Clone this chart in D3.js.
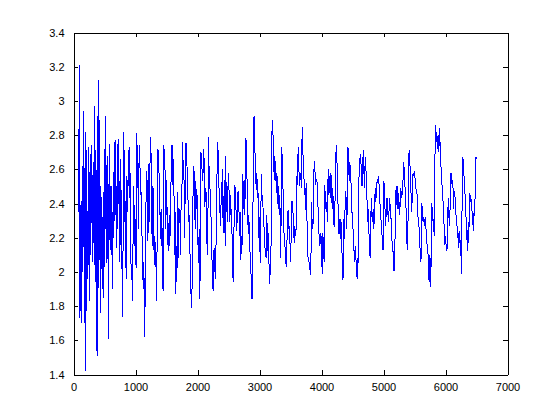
<!DOCTYPE html>
<html><head><meta charset="utf-8">
<script src="https://cdn.jsdelivr.net/npm/d3@7/dist/d3.min.js"></script>
<style>html,body{margin:0;padding:0;background:#fff}svg{display:block}</style>
</head><body>
<script>
const sampleIndex = [
85,92,98,104,112,124,135,145,152,161,170,177,188,194,199,210,218,226,242,248,253,262,269,278,288,296,306,315,323,333,344,352,360,366,371,382,393,403,414,425,431,436,446,452,457,468,479,489,497,505,510,516,527,535,543,552,559,565,575,586,597,605,613,622,629,640,648,656,664,672,683,690,699,715,720,726,737,747,755,763,774,780,785,796,801,812,817,
823,833,850,860,871,887,898,909,919,930,941,952,968,979,989,1000,1011,1022,1032,1038,1048,1059,1070,1081,1091,1102,1113,1124,1134,1145,1151,1161,1172,1183,1194,1204,1215,1226,1237,1247,1258,1269,1280,1290,1301,1312,1323,1333,1344,1349,1360,1371,1382,1392,1403,1414,1425,1435,1446,1457,1468,1478,1489,1500,1511,1521,1532,1543,1554,1565,1575,1586,1597,1607,1613,1624,1634,1640,
1651,1661,1672,1683,1694,1704,1715,1726,1737,1747,1758,1769,1780,1790,1801,1812,1823,1833,1844,1855,1866,1876,1887,1898,1909,1919,1930,1941,1952,1962,1973,1984,1995,2005,2016,2027,2038,2043,2054,2064,2075,2086,2097,2107,2118,2129,2140,2150,2161,2172,2177,2188,2199,2210,2220,2231,2242,2253,2263,2274,2285,2296,2306,2317,2328,2339,2349,2360,2371,2382,2392,2403,2414,2425,2435,2446,2457,2462,
2474,2484,2495,2506,2517,2527,2538,2549,2560,2565,2570,2581,2592,2603,2613,2624,2635,2646,2656,2667,2678,2689,2699,2710,2721,2732,2742,2753,2764,2775,2785,2796,2807,2818,2828,2839,2850,2861,2871,2882,2893,2904,2914,2925,2936,2947,2957,2968,2979,2990,3000,3011,3022,3033,3043,3054,3065,3076,3086,3097,3108,3119,3129,3140,3151,3162,3172,3183,3194,3205,3215,3226,3237,3248,3258,3269,3280,
3285,3296,3306,3317,3328,3339,3344,3355,3365,3376,3387,3398,3408,3419,3430,3441,3451,3462,3473,3484,3494,3505,3516,3527,3537,3548,3559,3570,3580,3591,3602,3613,3623,3634,3645,3656,3666,3677,3688,3699,3709,3720,3731,3742,3752,3763,3774,3785,3795,3806,3817,3828,3838,3849,3860,3871,3881,3892,3903,3914,3925,3935,3946,3957,3968,3978,3989,4000,4011,4021,4032,4043,4054,4064,4075,4086,4097,4107,
4119,4129,4140,4151,4162,4172,4183,4194,4205,4215,4226,4237,4248,4258,4269,4280,4291,4301,4312,4323,4334,4344,4350,4355,4366,4377,4387,4398,4409,4420,4425,4436,4446,4457,4468,4479,4489,4500,4511,4522,4532,4543,4554,4565,4575,4586,4597,4608,4618,4629,4640,4651,4661,4672,4683,4694,4705,4715,4726,4737,4748,4758,4769,4780,4790,4801,4812,4823,4833,4844,4855,4866,4876,4887,4898,4909,4919,4930,
4941,4951,4962,4973,4984,4994,5005,5016,5027,5037,5048,5059,5070,5080,5091,5102,5113,5123,5134,5145,5156,5166,5177,5188,5199,5209,5220,5231,5242,5252,5263,5274,5285,5295,5306,5317,5328,5338,5349,5360,5371,5381,5392,5403,5414,5424,5435,5446,5457,5467,5478,5489,5500,5510,5521,5532,5543,5553,5564,5575,5586,5596,5607,5618,5629,5639,5650,5661,5672,5682,5693,5704,5715,5725,5736,5747,
5753,5764,5774,5785,5796,5807,5817,5828,5839,5850,5860,5871,5882,5893,5903,5914,5925,5936,5946,5957,5968,5979,5989,6000,6011,6022,6032,6043,6054,6065,6075,6086,6097,6108,6118,6129,6140,6151,6161,6172,6183,6194,6204,6215,6226,6237,6247,6258,6269,6280,6290,6301,6312,6323,6333,6344,6355,6366,6376,6387,6398,6409,6419,6430,6441,6452,6462,6473,6484,6495,6500
];
const values = [
2.35,3.21,1.73,2.45,2.00,1.70,2.35,2.62,2.00,2.94,2.10,1.70,2.82,2.20,1.42,2.71,2.30,1.96,2.73,2.20,1.83,2.40,2.69,2.10,2.50,2.74,2.06,2.40,2.64,2.04,2.97,2.30,1.94,2.40,1.54,2.91,1.51,3.12,2.82,2.07,2.50,1.76,2.44,2.15,2.06,1.90,2.47,1.85,2.30,2.72,2.30,2.91,2.05,2.50,2.68,2.10,2.06,1.61,2.75,2.21,2.13,2.50,2.10,2.30,1.90,2.49,2.20,2.76,2.30,2.77,2.33,2.50,2.14,2.75,2.40,2.78,2.45,2.06,2.30,2.66,2.06,2.30,1.74,1.74,2.45,2.82,2.29,
2.71,2.33,1.96,2.56,2.35,2.71,2.43,2.73,2.13,2.02,2.00,1.83,2.50,2.15,2.39,2.10,2.02,2.81,2.49,2.74,2.25,2.74,2.66,2.45,2.47,2.25,2.10,1.90,2.06,1.76,1.62,2.33,2.43,2.59,2.18,2.63,2.23,2.46,2.70,2.79,2.47,2.15,2.50,2.47,2.04,2.21,2.06,2.02,1.83,2.29,2.72,2.70,2.54,2.33,2.35,2.15,2.37,1.94,1.89,2.74,2.65,2.58,2.25,2.54,2.33,2.17,2.12,2.33,2.15,2.41,2.56,2.74,2.74,2.45,2.66,2.37,2.10,2.35,
1.87,2.15,2.02,2.47,2.08,2.37,2.35,2.10,2.45,2.41,2.76,2.62,2.64,2.20,2.45,2.75,2.75,2.58,2.47,2.29,2.33,2.15,2.00,1.83,1.79,2.21,2.51,2.62,2.51,2.25,2.53,2.37,2.45,2.21,2.05,2.25,1.84,2.04,2.70,2.68,2.58,2.53,2.72,2.65,2.38,2.49,2.46,2.19,2.10,2.45,2.79,2.58,2.50,2.45,2.29,2.12,1.93,1.89,2.12,2.14,1.96,2.14,2.21,2.66,2.76,2.59,2.47,2.37,2.27,2.43,2.49,2.60,2.23,2.41,2.54,2.15,2.68,2.41,
2.37,2.29,2.58,2.53,2.29,2.45,2.33,2.37,2.15,2.02,1.97,1.94,2.39,2.51,2.45,2.33,2.24,2.45,2.47,2.39,2.21,2.35,2.07,2.21,2.16,2.57,2.37,2.54,2.33,2.78,2.77,2.58,2.41,2.22,2.33,2.17,2.10,2.03,1.85,1.84,2.27,2.90,2.91,2.73,2.60,2.48,2.58,2.43,2.46,2.20,2.32,2.05,2.37,2.57,2.41,2.41,2.27,2.26,2.15,2.11,2.08,2.33,2.12,2.23,2.08,1.93,2.02,1.98,2.66,2.89,2.84,2.70,2.54,2.68,2.53,2.58,2.46,
2.56,2.40,2.50,2.33,2.45,2.15,2.08,2.73,2.68,2.53,2.38,2.18,2.17,2.10,2.03,2.12,2.35,2.36,2.25,2.27,2.14,2.06,2.41,2.41,2.37,2.29,2.17,2.27,2.21,2.25,2.56,2.51,2.73,2.62,2.50,2.58,2.56,2.49,2.85,2.72,2.60,2.53,2.49,2.36,2.52,2.35,2.19,2.06,2.08,2.01,2.06,1.98,2.41,2.29,2.25,2.35,2.65,2.62,2.51,2.54,2.53,2.51,2.35,2.25,2.15,2.17,2.23,2.15,1.99,2.23,2.14,2.06,2.51,2.37,2.41,2.37,2.29,2.60,
2.45,2.56,2.43,2.58,2.51,2.37,2.49,2.31,2.26,2.35,2.59,2.74,2.67,2.52,2.36,2.22,2.31,2.19,2.31,2.25,2.06,1.95,1.98,2.31,2.19,2.33,2.47,2.43,2.25,2.59,2.73,2.70,2.53,2.64,2.58,2.50,2.35,2.35,2.22,2.14,2.06,2.15,2.10,1.97,2.08,1.96,2.31,2.64,2.66,2.69,2.61,2.50,2.51,2.71,2.60,2.49,2.67,2.60,2.56,2.37,2.29,2.37,2.17,2.10,2.08,2.43,2.33,2.29,2.37,2.25,2.35,2.49,2.41,2.48,2.54,2.52,2.56,2.50,
2.43,2.31,2.30,2.25,2.13,2.13,2.53,2.49,2.33,2.27,2.43,2.43,2.35,2.29,2.37,2.43,2.31,2.31,2.21,2.12,2.12,2.01,2.01,2.24,2.47,2.50,2.37,2.50,2.37,2.41,2.33,2.49,2.47,2.43,2.49,2.55,2.64,2.54,2.49,2.39,2.33,2.13,2.14,2.65,2.71,2.64,2.58,2.43,2.35,2.53,2.58,2.56,2.59,2.54,2.49,2.47,2.45,2.33,2.31,2.25,2.17,2.06,2.08,2.40,2.34,2.29,2.32,2.27,2.32,2.27,2.21,2.15,2.14,2.02,1.94,2.10,
2.06,1.91,2.40,2.37,2.30,2.31,2.21,2.63,2.86,2.76,2.82,2.72,2.80,2.70,2.84,2.74,2.64,2.53,2.50,2.43,2.37,2.25,2.16,2.21,2.15,2.12,2.18,2.43,2.33,2.27,2.39,2.58,2.57,2.49,2.54,2.37,2.47,2.45,2.41,2.31,2.29,2.20,2.23,2.14,2.24,2.17,2.14,1.99,2.47,2.67,2.64,2.54,2.49,2.35,2.31,2.21,2.12,2.29,2.17,2.46,2.41,2.45,2.37,2.35,2.29,2.24,2.37,2.33,2.67,2.67,2.66
];
const xTicks = [0, 1000, 2000, 3000, 4000, 5000, 6000, 7000];
const yTicks = [1.4, 1.6, 1.8, 2, 2.2, 2.4, 2.6, 2.8, 3, 3.2, 3.4];

const W = 560, H = 420;
const svg = d3.select("body").append("svg").attr("width", W).attr("height", H)
  .style("font-family", "'Liberation Sans', Arial, Helvetica, sans-serif");

const x = d3.scaleLinear().domain([0, 7000]).range([73.5, 507.5]);
const y = d3.scaleLinear().domain([1.4, 3.4]).range([374.5, 32.5]);
const TL = 4.3;
const yFmt = d => String(+d.toFixed(1));

function styleAxis(g) {
  g.selectAll("path.domain").attr("stroke", "#000").attr("stroke-width", 1).attr("shape-rendering", "crispEdges");
  g.selectAll(".tick line").attr("stroke", "#000").attr("stroke-width", 1).attr("shape-rendering", "crispEdges");
  g.selectAll(".tick text").attr("fill", "#000").attr("font-size", 11);
}

// line (aliased, like the MATLAB screen renderer)
const n = Math.min(sampleIndex.length, values.length);
const pts = d3.range(n).map(i => [sampleIndex[i], values[i]]);
const line = d3.line().x(d => x(d[0])).y(d => y(d[1]));
svg.append("path").datum(pts).attr("d", line)
  .attr("fill", "none").attr("stroke", "#0000ff").attr("stroke-width", 1)
  .attr("stroke-linejoin", "miter").attr("shape-rendering", "crispEdges");

// axes (ticks pointing inward, MATLAB style)
const gB = svg.append("g").attr("transform", "translate(0,374.5)")
  .call(d3.axisBottom(x).tickValues(xTicks).tickSizeInner(-TL).tickSizeOuter(0).tickPadding(9).tickFormat(d3.format("d")));
styleAxis(gB);
const gT = svg.append("g").attr("transform", "translate(0,32.5)")
  .call(d3.axisTop(x).tickValues(xTicks).tickSizeInner(-TL).tickSizeOuter(0).tickFormat(""));
styleAxis(gT);
const gL = svg.append("g").attr("transform", "translate(73.5,0)")
  .call(d3.axisLeft(y).tickValues(yTicks).tickSizeInner(-TL).tickSizeOuter(0).tickPadding(9).tickFormat(yFmt));
styleAxis(gL);
const gR = svg.append("g").attr("transform", "translate(507.5,0)")
  .call(d3.axisRight(y).tickValues(yTicks).tickSizeInner(-TL).tickSizeOuter(0).tickFormat(""));
styleAxis(gR);
</script>
</body></html>
